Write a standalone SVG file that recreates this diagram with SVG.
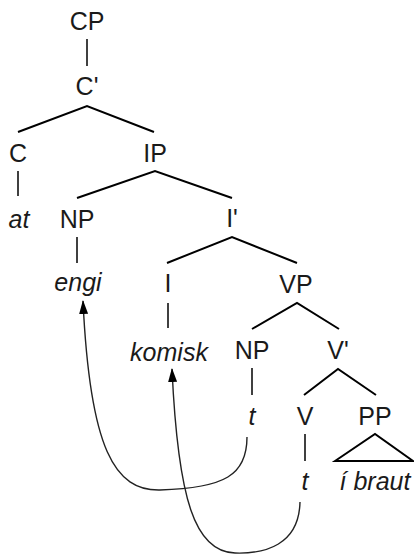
<svg xmlns="http://www.w3.org/2000/svg" width="414" height="556" viewBox="0 0 414 556">
<style>
text{font-family:"Liberation Sans",Arial,sans-serif;font-size:25px;fill:#1a1a1a;text-anchor:middle}
.i{font-style:italic}
.e{stroke:#000;stroke-width:2;fill:none;stroke-linecap:butt}
.v{stroke:#000;stroke-width:1.5;fill:none}
.m{stroke:#222;stroke-width:1.4;fill:none}
</style>
<defs>
<marker id="ah" markerWidth="14" markerHeight="10" refX="13" refY="5" viewBox="0 0 14 10" orient="auto" markerUnits="userSpaceOnUse">
<path d="M0,0.5 L14,5 L0,9.5 Z" fill="#000"/>
</marker>
</defs>
<rect width="414" height="556" fill="#fff"/>
<g id="n-CP"><text x="87" y="30">CP</text></g>
<g id="n-Cbar"><text x="87" y="95">C'</text></g>
<g id="n-C"><text x="18" y="162">C</text></g>
<g id="n-IP"><text x="155" y="162">IP</text></g>
<g id="n-at"><text class="i" x="19" y="228">at</text></g>
<g id="n-NP1"><text x="77" y="228">NP</text></g>
<g id="n-Ibar"><text x="232" y="227">I'</text></g>
<g id="n-engi"><text class="i" x="78" y="291">engi</text></g>
<g id="n-I"><text x="168" y="292">I</text></g>
<g id="n-VP"><text x="296" y="293">VP</text></g>
<g id="n-komisk"><text class="i" x="169" y="361">komisk</text></g>
<g id="n-NP2"><text x="252" y="359">NP</text></g>
<g id="n-Vbar"><text x="338" y="359">V'</text></g>
<g id="n-t1"><text class="i" x="252" y="425">t</text></g>
<g id="n-V"><text x="305" y="425">V</text></g>
<g id="n-PP"><text x="375" y="425">PP</text></g>
<g id="n-t2"><text class="i" x="305" y="490">t</text></g>
<g id="n-ibraut"><text class="i" x="375" y="490">í braut</text></g>
<g id="connectors">
<path class="v" d="M87,39 V66"/>
<path class="e" d="M18,132 L87,106 L154,132"/>
<path class="v" d="M18,171 V196"/>
<path class="e" d="M77,198 L155,171 L232,198"/>
<path class="v" d="M77,237 V263"/>
<path class="e" d="M167,263 L232,237 L297,263"/>
<path class="v" d="M168,303 V328"/>
<path class="e" d="M252,329 L297,303 L339,329"/>
<path class="v" d="M252,368 V395"/>
<path class="e" d="M304,395 L338,369 L376,395"/>
<path class="v" d="M305,434 V461"/>
<path class="e" d="M335,461 L375,434 L413,461 Z"/>
<path class="m" d="M247,437 C247,475 225,488 160,490 C115,491 90,450 83,301" marker-end="url(#ah)"/>
<path class="m" d="M300,502 C299,545 265,554 235,553 C195,552 178,500 172,369" marker-end="url(#ah)"/>
</g>
</svg>
